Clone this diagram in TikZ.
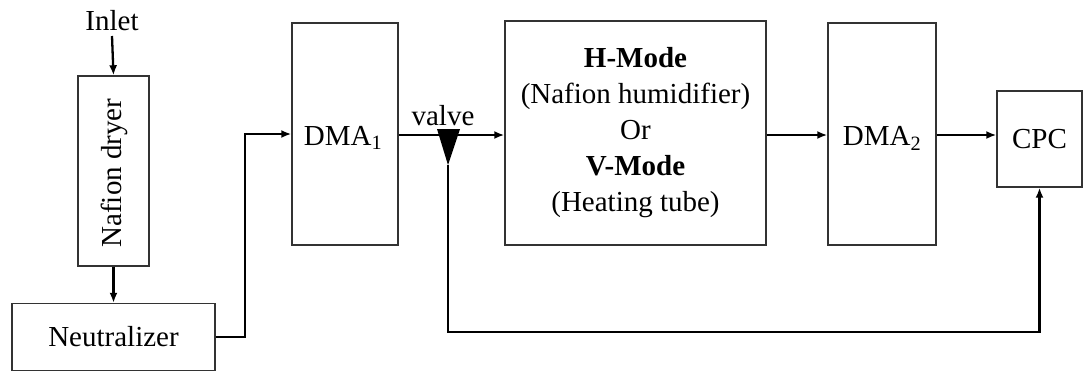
\documentclass[tikz,border=0pt]{standalone}
\usepackage{fontspec}
\setmainfont{Liberation Serif}
\usetikzlibrary{arrows.meta}
\begin{document}
\begin{tikzpicture}[x=1pt,y=-1pt,
  box/.style={draw=black!80,line width=1.4pt,inner sep=0pt,align=center},
  flow/.style={draw=black,line width=2.3pt,-{Latex[length=10pt,width=8pt]}},
  lbl/.style={inner sep=0pt},
  every node/.style={font=\fontsize{29}{36}\selectfont}]
\useasboundingbox (0,0) rectangle (1083,372);
% nodes
\node[lbl] (inlet) at (112,21) {Inlet};
\node[box,minimum width=71pt,minimum height=190pt] (dryer) at (113.5,171) {};
\node[rotate=90,lbl] (dryert) at (114.5,173) {Nafion dryer};
\node[box,minimum width=203pt,minimum height=67pt] (neut) at (113.5,337) {Neutralizer};
\node[box,minimum width=106pt,minimum height=222pt] (dma1) at (345,134) {};
\node[lbl] (dma1t) at (343,138) {DMA\textsubscript{1}};
\node[box,minimum width=261pt,minimum height=224pt] (hm) at (635.5,133)
  {\textbf{H-Mode}\\(Nafion humidifier)\\Or\\\textbf{V-Mode}\\(Heating tube)};
\node[box,minimum width=108pt,minimum height=222pt] (dma2) at (882,134) {};
\node[lbl] (dma2t) at (882,138) {DMA\textsubscript{2}};
\node[box,minimum width=85pt,minimum height=96pt] (cpc) at (1039.5,139) {CPC};
\node[lbl] (valvet) at (443,116) {valve};
% valve
\coordinate (vl) at (437,129);
\coordinate (vr) at (460,129);
\coordinate (vapex) at (448,165);
\coordinate (vb) at (448,332);
\coordinate (nk) at (245,337);
% connectors
\draw[flow] (112,36) -- (dryer.north);
\draw[flow] (dryer.south) -- (neut.north);
\draw[flow] (neut.east) -- (nk) |- (dma1.west);
\draw[flow] (dma1.east |- 0,135) -- (hm.west |- 0,135);
\fill[black] (vl) -- (vr) -- (vapex) -- cycle;
\draw[flow] (vapex) -- (vb) -| (cpc.south);
\draw[flow] (hm.east |- 0,135) -- (dma2.west |- 0,135);
\draw[flow] (dma2.east |- 0,135) -- (cpc.west |- 0,135);
\end{tikzpicture}
\end{document}
